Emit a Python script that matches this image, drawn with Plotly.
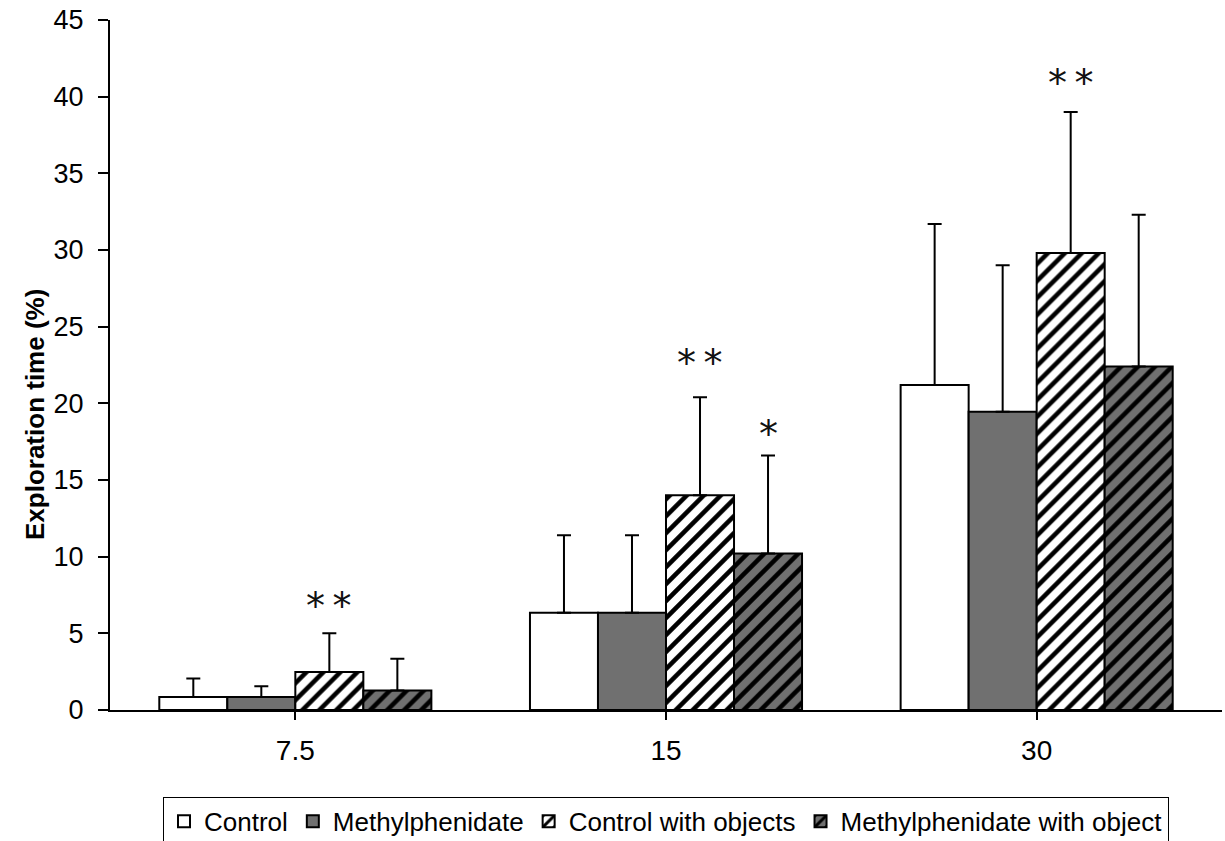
import plotly.graph_objects as go

categories = ["7.5", "15", "30"]
series_names = ["Control", "Methylphenidate", "Control with objects", "Methylphenidate with object"]
control = [0.85, 6.35, 21.2]
control_err = [1.2, 5.05, 10.5]
methyl = [0.85, 6.35, 19.45]
methyl_err = [0.7, 5.05, 9.55]
control_obj = [2.48, 14.0, 29.8]
control_obj_err = [2.52, 6.4, 9.2]
methyl_obj = [1.27, 10.2, 22.4]
methyl_obj_err = [2.08, 6.4, 9.9]
# significance marks: (category index, series index, label, y position)
star_cat = [0, 1, 1, 2]
star_series = [2, 2, 3, 2]
star_text = ["**", "**", "*", "**"]
star_y = [6.8, 22.6, 18.0, 40.9]

values = [control, methyl, control_obj, methyl_obj]
errors = [control_err, methyl_err, control_obj_err, methyl_obj_err]
fills = ["white", "#707070", "white", "#707070"]
patterns = ["", "", "/", "/"]

x = list(range(len(categories)))
bargap = 0.266
n = len(series_names)
bw = (1 - bargap) / n

fig = go.Figure()
for i in range(n):
    fig.add_trace(go.Bar(
        x=x, y=values[i], name=series_names[i],
        marker=dict(color=fills[i], line=dict(color="black", width=2),
                    pattern=dict(shape=patterns[i], fgcolor="black", bgcolor=fills[i],
                                 size=12, solidity=0.38, fillmode="replace") if patterns[i] else None),
        error_y=dict(type="data", array=errors[i], arrayminus=[0] * len(x), symmetric=False,
                     color="black", thickness=2, width=7),
    ))

for c, s, t, yy in zip(star_cat, star_series, star_text, star_y):
    xc = c - (1 - bargap) / 2 + bw * (s + 0.5)
    fig.add_annotation(x=xc, y=yy, text="\u2009".join(t), showarrow=False, xref="x", yref="y",
                       font=dict(family="DejaVu Sans", size=38, color="#111"),
                       yanchor="middle")

fig.add_annotation(x=-(110 - 18) / 1112, y=(710 - 415) / 690, xref="paper", yref="paper",
                   text="<b>Exploration time (%)</b>", textangle=-90, showarrow=False,
                   font=dict(family="Liberation Sans, Arial", size=26, color="black"))

fig.update_layout(
    width=1225, height=841,
    paper_bgcolor="white", plot_bgcolor="white",
    margin=dict(l=110, r=3, t=20, b=131, autoexpand=False),
    barmode="group", bargap=bargap, bargroupgap=0,
    font=dict(family="Liberation Sans, Arial", color="black"),
    showlegend=True,
    legend=dict(orientation="h", x=0.5, xanchor="center", y=-0.126, yanchor="top",
                bordercolor="black", borderwidth=1, font=dict(size=26),
                itemsizing="constant", itemwidth=30, tracegroupgap=0,
                traceorder="normal"),
)
fig.update_xaxes(
    range=[-0.5, 2.5], tickmode="array", tickvals=x, ticktext=categories,
    showline=True, linecolor="black", linewidth=2,
    ticks="outside", ticklen=8, tickcolor="black", tickwidth=2,
    tickson="boundaries", showgrid=False, zeroline=False, automargin=False,
    tickfont=dict(size=28), ticklabelstandoff=6, ticklabeloverflow="allow",
)
fig.update_yaxes(
    range=[0, 45], dtick=5, showline=True, linecolor="black", linewidth=2,
    ticks="outside", ticklen=10, tickcolor="black", tickwidth=2,
    showgrid=False, zeroline=False, automargin=False,
    tickfont=dict(size=27), ticklabelstandoff=9, ticklabeloverflow="allow",
)

fig.write_html("out.html", config={"displayModeBar": False},
               post_script="document.body.style.margin='0';")
